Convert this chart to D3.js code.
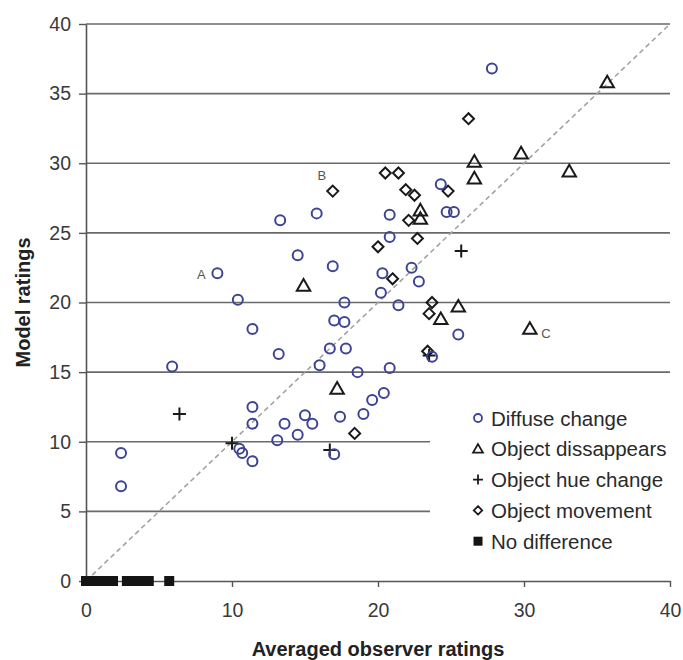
<!DOCTYPE html>
<html>
<head>
<meta charset="utf-8">
<script src="https://cdn.jsdelivr.net/npm/d3@7"></script>
<style>
  html, body { margin: 0; padding: 0; background: #fff; }
  svg { display: block; font-family: "Liberation Sans", Arial, sans-serif; }
</style>
</head>
<body>
<svg id="chart" width="683" height="660"></svg>
<script>
// Observer vs. model ratings, grouped by type of image change
const diffuseChange = [
  [27.8, 36.8], [13.3, 25.9], [15.8, 26.4], [14.5, 23.4], [16.9, 22.6],
  [9.0, 22.1], [10.4, 20.2], [17.7, 20.0], [20.3, 22.1], [20.2, 20.7],
  [20.8, 26.3], [24.3, 28.5], [24.7, 26.5], [25.2, 26.5], [20.8, 24.7],
  [22.3, 22.5], [22.8, 21.5], [21.4, 19.8], [25.5, 17.7], [23.7, 16.1],
  [20.8, 15.3], [19.6, 13.0], [20.4, 13.5], [19.0, 12.0], [17.0, 18.7],
  [17.7, 18.6], [16.7, 16.7], [17.8, 16.7], [18.6, 15.0], [16.0, 15.5],
  [11.4, 18.1], [13.2, 16.3], [5.9, 15.4], [11.4, 12.5], [11.4, 11.3],
  [13.6, 11.3], [15.0, 11.9], [15.5, 11.3], [17.4, 11.8], [14.5, 10.5],
  [13.1, 10.1], [10.5, 9.5], [10.7, 9.2], [11.4, 8.6], [17.0, 9.1],
  [2.4, 9.2], [2.4, 6.8]
];
const objectDisappears = [
  [35.7, 35.8], [29.8, 30.7], [26.6, 30.1], [33.1, 29.4], [26.6, 28.9],
  [22.9, 26.6], [22.9, 26.0], [14.9, 21.2], [25.5, 19.7], [24.3, 18.8],
  [30.4, 18.1], [17.2, 13.8]
];
const objectHueChange = [
  [25.7, 23.7], [23.5, 16.2], [6.4, 12.0], [10.0, 9.9], [16.7, 9.4]
];
const objectMovement = [
  [26.2, 33.2], [16.9, 28.0], [20.5, 29.3], [21.4, 29.3], [21.9, 28.1],
  [22.5, 27.7], [24.8, 28.0], [22.1, 25.9], [22.7, 24.6], [20.0, 24.0],
  [21.0, 21.7], [23.7, 20.0], [23.5, 19.2], [23.4, 16.5], [18.4, 10.6]
];
const noDifference = [
  [0.0, 0], [0.3, 0], [0.6, 0], [0.9, 0], [1.2, 0], [1.5, 0], [1.85, 0],
  [2.8, 0], [3.1, 0], [3.4, 0], [3.7, 0], [4.0, 0], [4.3, 0], [5.7, 0]
];
// Annotated cases
const callouts = [
  { name: "A", x: 9.0, y: 22.1 },
  { name: "B", x: 16.9, y: 28.0 },
  { name: "C", x: 30.4, y: 18.1 }
];
const xTicks = [0, 10, 20, 30, 40];
const yTicks = [0, 5, 10, 15, 20, 25, 30, 35, 40];
const legendNames = ["Diffuse change", "Object dissappears", "Object hue change", "Object movement", "No difference"];
const xTitle = "Averaged observer ratings";
const yTitle = "Model ratings";

const svg = d3.select("#chart");
const x = d3.scaleLinear().domain([0, 40]).range([86, 670]);
const y = d3.scaleLinear().domain([0, 40]).range([581, 24]);

const blue = "#3d4496";
const ink = "#1a1a1a";

// Horizontal gridlines
svg.append("g")
  .selectAll("line")
  .data(yTicks.filter(d => d > 0))
  .join("line")
  .attr("x1", x(0)).attr("x2", x(40))
  .attr("y1", d => y(d)).attr("y2", d => y(d))
  .attr("stroke", "#6a6a6a").attr("stroke-width", 1.6);

// Axes
const yAxis = svg.append("g")
  .attr("transform", `translate(${x(0)},0)`)
  .call(d3.axisLeft(y).tickValues(yTicks).tickSize(7).tickPadding(8).tickSizeOuter(0));
const xAxis = svg.append("g")
  .attr("transform", `translate(0,${y(0)})`)
  .call(d3.axisBottom(x).tickValues(xTicks).tickSize(6).tickPadding(16).tickSizeOuter(0));
[xAxis, yAxis].forEach(g => {
  g.selectAll("path.domain").attr("stroke", "#555").attr("stroke-width", 1.6);
  g.selectAll(".tick line").attr("stroke", "#555").attr("stroke-width", 1.4);
  g.selectAll(".tick text").attr("fill", "#3a3a3a").attr("font-size", 19.5)
    .attr("font-family", "Liberation Sans, Arial, sans-serif");
});
xAxis.selectAll(".tick").filter(d => d === 0).select("line").remove();

// Legend panel (covers the lower gridlines)
const legend = svg.append("g");
legend.append("rect")
  .attr("x", 430).attr("y", 398).attr("width", 253).attr("height", 166)
  .attr("fill", "#fff");

// Diagonal identity line
svg.append("line")
  .attr("x1", x(0)).attr("y1", y(0)).attr("x2", x(40)).attr("y2", y(40))
  .attr("stroke", "#a3a3a3").attr("stroke-width", 1.6)
  .attr("stroke-dasharray", "5,3.5");

// Marker shapes
const tri = d3.symbol().type(d3.symbolTriangle).size(78);
const diamond = s => `M0,${-s}L${s},0L0,${s}L${-s},0Z`;
const plus = s => `M${-s},0H${s}M0,${-s}V${s}`;

// No difference (filled squares on the axis)
svg.append("g").selectAll("rect")
  .data(noDifference)
  .join("rect")
  .attr("x", d => x(d[0]) - 5).attr("y", d => y(d[1]) - 5)
  .attr("width", 10).attr("height", 10)
  .attr("fill", "#141414");

// Object movement
svg.append("g").selectAll("path")
  .data(objectMovement)
  .join("path")
  .attr("transform", d => `translate(${x(d[0])},${y(d[1])})`)
  .attr("d", diamond(5.5))
  .attr("fill", "none").attr("stroke", ink).attr("stroke-width", 2);

// Object disappears
svg.append("g").selectAll("path")
  .data(objectDisappears)
  .join("path")
  .attr("transform", d => `translate(${x(d[0])},${y(d[1]) + 1})`)
  .attr("d", tri)
  .attr("fill", "none").attr("stroke", ink).attr("stroke-width", 2);

// Object hue change
svg.append("g").selectAll("path")
  .data(objectHueChange)
  .join("path")
  .attr("transform", d => `translate(${x(d[0])},${y(d[1])})`)
  .attr("d", plus(6.5))
  .attr("fill", "none").attr("stroke", ink).attr("stroke-width", 2);

// Diffuse change
svg.append("g").selectAll("circle")
  .data(diffuseChange)
  .join("circle")
  .attr("cx", d => x(d[0])).attr("cy", d => y(d[1]))
  .attr("r", 5)
  .attr("fill", "none").attr("stroke", blue).attr("stroke-width", 2);

// Callout letters
const calloutOffset = { A: [-16, 1], B: [-11, -16], C: [16, 5] };
svg.append("g").selectAll("text")
  .data(callouts)
  .join("text")
  .attr("x", d => x(d.x) + calloutOffset[d.name][0])
  .attr("y", d => y(d.y) + calloutOffset[d.name][1])
  .attr("text-anchor", "middle").attr("dominant-baseline", "central")
  .attr("font-size", 13).attr("fill", "#555")
  .text(d => d.name);

// Legend entries
const rowY = i => 418 + i * 30.8;
const legendMarks = [
  g => g.append("circle").attr("r", 4).attr("fill", "none").attr("stroke", blue).attr("stroke-width", 1.8),
  g => g.append("path").attr("d", d3.symbol().type(d3.symbolTriangle).size(42)()).attr("transform", "translate(0,1)")
        .attr("fill", "none").attr("stroke", ink).attr("stroke-width", 1.8),
  g => g.append("path").attr("d", plus(5)).attr("fill", "none").attr("stroke", ink).attr("stroke-width", 1.8),
  g => g.append("path").attr("d", diamond(4.2)).attr("fill", "none").attr("stroke", ink).attr("stroke-width", 1.8),
  g => g.append("rect").attr("x", -4.5).attr("y", -4.5).attr("width", 9).attr("height", 9).attr("fill", "#141414")
];
legendNames.forEach((name, i) => {
  const row = legend.append("g").attr("transform", `translate(478,${rowY(i)})`);
  legendMarks[i](row);
  row.append("text")
    .attr("x", 13).attr("y", 0).attr("dominant-baseline", "central")
    .attr("font-size", 20.5).attr("fill", "#2a2a2a")
    .text(name);
});

// Axis titles
svg.append("text")
  .attr("x", x(20)).attr("y", 649)
  .attr("text-anchor", "middle").attr("dominant-baseline", "central")
  .attr("font-size", 20).attr("font-weight", "bold").attr("fill", "#222")
  .text(xTitle);
svg.append("text")
  .attr("transform", `translate(23,${y(20)}) rotate(-90)`)
  .attr("text-anchor", "middle").attr("dominant-baseline", "central")
  .attr("font-size", 20).attr("font-weight", "bold").attr("fill", "#222")
  .text(yTitle);
</script>
</body>
</html>
